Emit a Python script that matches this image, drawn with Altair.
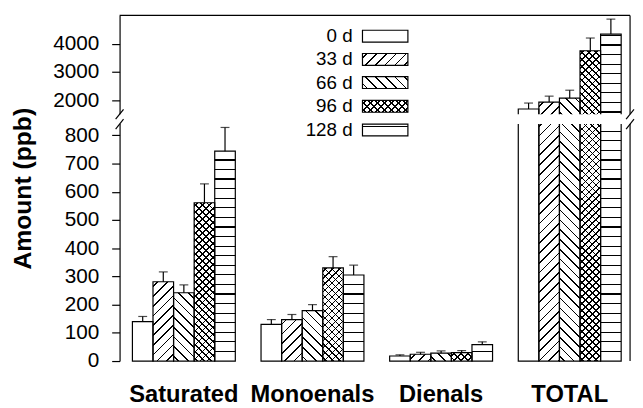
import math
import altair as alt
import numpy as np
import pandas as pd

# ---------------- data ----------------
categories = ["Saturated", "Monoenals", "Dienals", "TOTAL"]
series = ["0 d", "33 d", "66 d", "96 d", "128 d"]

saturated = [140, 281, 242, 561, 744]
monoenals = [130, 147, 179, 330, 305]
dienals = [18, 24, 28, 30, 58]
total = [1685, 1930, 2070, 3750, 4340]

saturated_err = [18, 35, 28, 67, 84]
monoenals_err = [17, 18, 21, 40, 35]
dienals_err = [4, 7, 8, 7, 10]
total_err = [210, 210, 280, 450, 530]

y_ticks = [0, 100, 200, 300, 400, 500, 600, 700, 800, 2000, 3000, 4000]
y_break_domain = [0, 840, 1500, 5000]

# ---------------- layout ----------------
W, H = 517, 350
y_range = [H, 110, 100, 0]          # broken (piecewise) axis
x_range = [13, 508]
PAD_INNER = 0.2
step = (x_range[1] - x_range[0]) / (len(categories) - PAD_INNER)
bar_w = step * (1 - PAD_INNER) / len(series)
FONT = "Liberation Sans"

hatch = {
    "0 d": [],
    "33 d": [("/", 7.0)],
    "66 d": [("\\", 7.0)],
    "96 d": [("/", 5.0), ("\\", 5.0)],
    "128 d": [("-", 9.7)],
}

rows = []
for cat, vals, errs in zip(categories,
                           [saturated, monoenals, dienals, total],
                           [saturated_err, monoenals_err, dienals_err, total_err]):
    for s, v, e in zip(series, vals, errs):
        rows.append({"category": cat, "series": s, "value": v, "top": v + e, "base": 0})
df = pd.DataFrame(rows)


def stripe_gradient(w, h, kind, period, lw=1.2):
    clear = "rgba(255,255,255,0)"
    ink = "#000000"
    if kind == "-":
        length = h
        coords = dict(x1=0, y1=1, x2=0, y2=0)
        first = period
    else:
        length = (w + h) / math.sqrt(2)
        d = w * w + h * h
        gx = (w + h) * w / d
        gy = (w + h) * h / d
        if kind == "/":
            coords = dict(x1=0, y1=0, x2=round(gx, 5), y2=round(gy, 5))
        else:
            coords = dict(x1=0, y1=1, x2=round(gx, 5), y2=round(1 - gy, 5))
        first = period / 2
    stops = []
    half = lw / 2 / length
    c = first
    while c < length:
        a = max(c / length - half, 0.0)
        b = min(c / length + half, 1.0)
        stops += [(a, clear), (a, ink), (b, ink), (b, clear)]
        c += period
    if not stops:
        stops = [(0.0, clear), (1.0, clear)]
    return {"gradient": "linear", **coords,
            "stops": [{"offset": round(o, 5), "color": col} for o, col in stops]}


yscale = alt.Scale(domain=y_break_domain, range=y_range, zero=False, nice=False)
xscale = alt.Scale(domain=categories, range=x_range, paddingInner=PAD_INNER, paddingOuter=0)
oscale = alt.Scale(domain=series, paddingInner=0, paddingOuter=0)

yaxis = alt.Axis(values=y_ticks, format="d", title="Amount (ppb)", grid=False,
                 domainColor="black", domainWidth=1.2, tickColor="black", tickWidth=1.2,
                 tickSize=8, labelFont=FONT, labelFontSize=21, labelColor="black",
                 labelPadding=13, labelOverlap=False, labelFlush=False,
                 titleFont=FONT, titleFontSize=25, titleFontWeight="bold", titleColor="black",
                 titleX=-98, titleY=175, titleAngle=270, titleAlign="center",
                 titleBaseline="middle")
xaxis = alt.Axis(title=None, domain=False, ticks=False, labelAngle=0, labelFont=FONT,
                 labelFontSize=24, labelFontWeight="bold", labelColor="black", labelPadding=22)

xenc = alt.X("category:N", scale=xscale, axis=xaxis)
oenc = alt.XOffset("series:N", scale=oscale)
enc = dict(x=xenc, xOffset=oenc, y=alt.Y("value:Q", scale=yscale, axis=yaxis),
           y2=alt.Y2("base:Q"))

base = alt.Chart(df)
layers = [base.mark_bar(fill="white", strokeWidth=0).encode(**enc)]

for _, r in df.iterrows():
    h = H - float(np.interp(r["value"], y_break_domain, y_range))
    for kind, period in hatch[r["series"]]:
        g = stripe_gradient(bar_w, h, kind, period)
        layers.append(
            base.transform_filter(
                f"datum.category == '{r['category']}' && datum.series == '{r['series']}'"
            ).mark_bar(fill=g, strokeWidth=0).encode(**enc)
        )

layers.append(base.mark_bar(fillOpacity=0, stroke="black", strokeWidth=1.2).encode(**enc))

# error bars
layers.append(base.mark_rule(color="black", strokeWidth=1.2).encode(
    x=xenc, xOffset=oenc, y=alt.Y("value:Q", scale=yscale, axis=yaxis), y2=alt.Y2("top:Q")))
layers.append(base.mark_tick(color="black", thickness=1.2, size=9, orient="horizontal").encode(
    x=xenc, xOffset=oenc, y=alt.Y("top:Q", scale=yscale, axis=yaxis)))

one = alt.Chart(pd.DataFrame({"a": [0]}))
# frame: top and right
layers.append(one.mark_rule(color="black", strokeWidth=1.2).encode(
    x=alt.value(0), x2=alt.value(W), y=alt.value(0)))
layers.append(one.mark_rule(color="black", strokeWidth=1.2).encode(
    x=alt.value(W), y=alt.value(0), y2=alt.value(H)))
# axis break gap
layers.append(one.mark_rect(color="white").encode(
    x=alt.value(-3), x2=alt.value(W + 3), y=alt.value(100), y2=alt.value(110)))
# break marks
for bx in (0, W):
    for by in (100, 110):
        layers.append(one.mark_rule(color="black", strokeWidth=1.2).encode(
            x=alt.value(bx - 4), x2=alt.value(bx + 4), y=alt.value(by + 5), y2=alt.value(by - 5)))

# legend
legend_df = pd.DataFrame({"series": series})
leg_rows = [21, 44.5, 68, 92, 116]
sw_w, sw_h = 46, 12
for s, cy in zip(series, leg_rows):
    lc = alt.Chart(legend_df).transform_filter(f"datum.series == '{s}'")
    rect_enc = dict(x=alt.value(246), x2=alt.value(246 + sw_w),
                    y=alt.value(cy - sw_h / 2), y2=alt.value(cy + sw_h / 2))
    layers.append(lc.mark_rect(fill="white", strokeWidth=0).encode(**rect_enc))
    for kind, period in hatch[s]:
        layers.append(lc.mark_rect(fill=stripe_gradient(sw_w, sw_h, kind, period),
                                   strokeWidth=0).encode(**rect_enc))
    layers.append(lc.mark_rect(fillOpacity=0, stroke="black", strokeWidth=1.2).encode(**rect_enc))
    layers.append(lc.mark_text(align="right", baseline="middle", font=FONT, fontSize=19,
                               color="black").encode(x=alt.value(236), y=alt.value(cy),
                                                     text="series:N"))

chart = alt.layer(*layers).properties(
    width=W, height=H,
    autosize=alt.AutoSizeParams(type="none"),
    padding={"left": 113, "top": 5, "right": 5, "bottom": 45},
    background="white",
).configure_view(stroke="transparent")

chart.save("out.html", embed_options={"renderer": "svg", "actions": False})
